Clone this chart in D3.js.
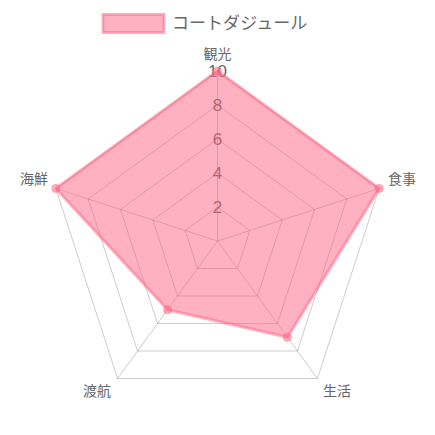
<!DOCTYPE html>
<html><head><meta charset="utf-8">
<script src="https://cdn.jsdelivr.net/npm/d3@7"></script>
<style>html,body{margin:0;padding:0;background:#fff}svg{display:block}</style>
</head><body>
<script>
const categories = ["観光","食事","生活","渡航","海鮮"];
const seriesName = "コートダジュール";
const values = [10,10,7,5,10];
const tickValues = [2,4,6,8,10];

const W=435,H=435,cx=217.5,cy=241,R=170;
const font = "'Noto Sans CJK JP','Noto Sans',sans-serif";
const numFont = "'Liberation Sans',Arial,sans-serif";
const svg=d3.select("body").append("svg").attr("width",W).attr("height",H);
const r=d3.scaleLinear().domain([0,10]).range([0,R]);
const ang=d3.scaleLinear().domain([0,categories.length]).range([-Math.PI/2,1.5*Math.PI]);
const pt=(i,v)=>[cx+r(v)*Math.cos(ang(i)), cy+r(v)*Math.sin(ang(i))];

const grid=svg.append("g");
tickValues.forEach(t=>{
  grid.append("polygon").attr("points",categories.map((c,i)=>pt(i,t).join(",")).join(" "))
    .attr("fill","none").attr("stroke","rgba(0,0,0,0.2)").attr("stroke-width",1);
});
categories.forEach((c,i)=>{
  const p=pt(i,10);
  grid.append("line").attr("x1",cx).attr("y1",cy).attr("x2",p[0]).attr("y2",p[1])
    .attr("stroke","rgba(0,0,0,0.2)").attr("stroke-width",1);
});
// tick labels
tickValues.forEach(t=>{
  svg.append("text").attr("x",cx).attr("y",cy-r(t)).attr("dy","0.36em")
    .attr("text-anchor","middle").attr("font-family",numFont).attr("font-size",17)
    .attr("fill","#666").text(t);
});
// area
const line=d3.line().curve(d3.curveLinearClosed);
svg.append("path").attr("d",line(values.map((v,i)=>pt(i,v))))
  .attr("fill","rgba(255,99,132,0.5)").attr("stroke","rgba(255,99,132,0.5)").attr("stroke-width",3)
  .attr("stroke-linejoin","round");
svg.selectAll("circle.pt").data(values).join("circle").attr("class","pt")
  .attr("cx",(v,i)=>pt(i,v)[0]).attr("cy",(v,i)=>pt(i,v)[1]).attr("r",4)
  .attr("fill","rgba(255,99,132,0.5)").attr("stroke","rgba(255,99,132,0.5)").attr("stroke-width",1);
// point labels
const labelPos=[[217.5,53.5,"middle"],[388,179,"start"],[337,391,"middle"],[97,391,"middle"],[48,179,"end"]];
categories.forEach((c,i)=>{
  const lp=labelPos[i];
  svg.append("text").attr("x",lp[0]).attr("y",lp[1]).attr("dy","0.36em").attr("text-anchor",lp[2])
    .attr("font-family",font).attr("font-size",14).attr("fill","#666").text(c);
});
// legend
svg.append("rect").attr("x",103).attr("y",14.5).attr("width",61).attr("height",18)
  .attr("fill","rgba(255,99,132,0.5)").attr("stroke","rgba(255,99,132,0.5)").attr("stroke-width",3);
svg.append("text").attr("x",172).attr("y",23).attr("dy","0.36em").attr("font-family",font)
  .attr("font-size",17).attr("fill","#666").text(seriesName);
</script>
</body></html>
